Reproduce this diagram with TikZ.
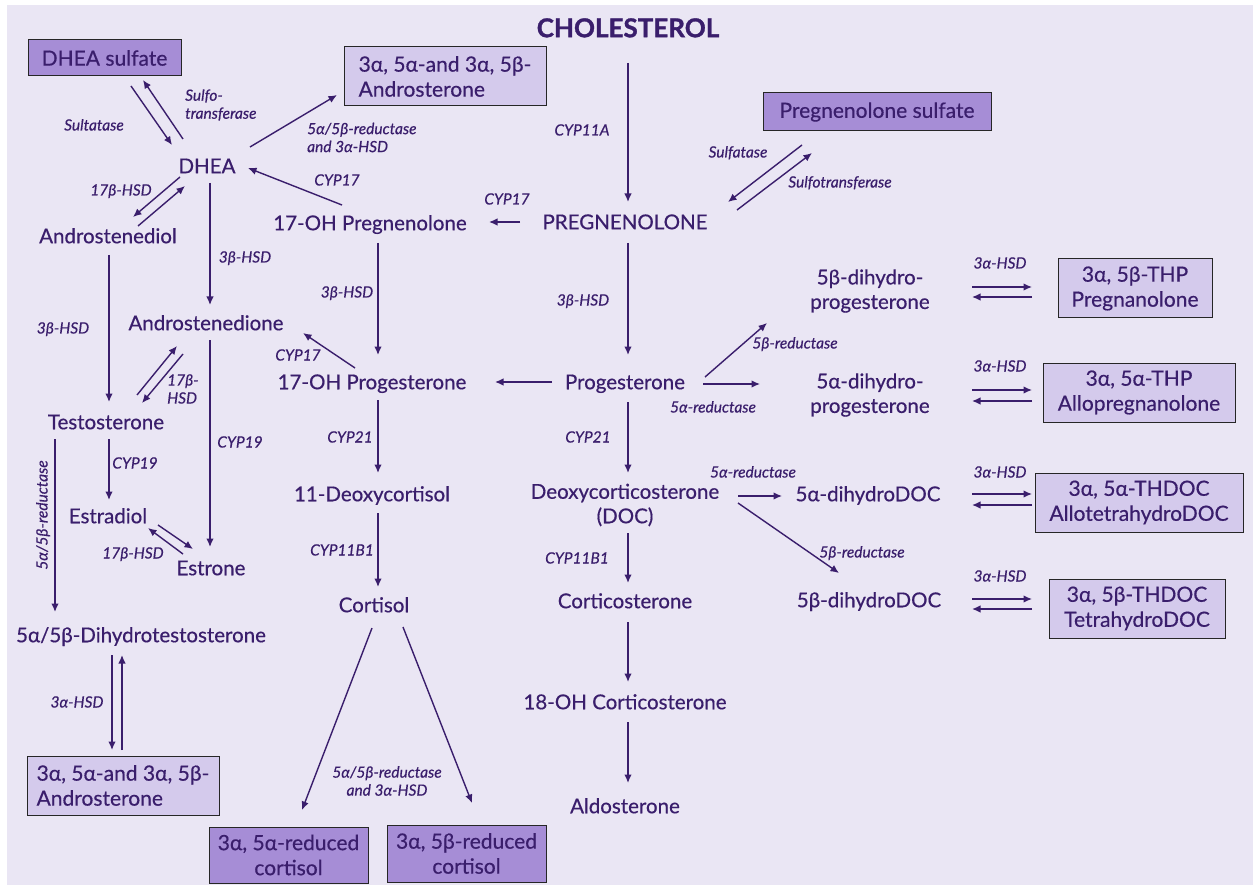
\documentclass[tikz,border=0pt]{standalone}
\usepackage{fontspec}
\setmainfont{Lato}
\newfontfamily\medfont{Lato}[FakeBold=0.5]
\newfontfamily\blackfont{Lato}[FakeBold=1.2]
\usetikzlibrary{calc,arrows.meta}
\definecolor{bgc}{RGB}{234,230,244}
\definecolor{txt}{RGB}{58,30,108}
\definecolor{lbox}{RGB}{212,202,236}
\definecolor{dbox}{RGB}{166,141,214}
\newcommand\myarrow[4]{\draw[arw] ($(#1)+(#2)$) -- ($(#3)+(#4)$);}
\begin{document}
\begin{tikzpicture}[x=1pt,y=1pt,
 every node/.style={text=txt},
 mol/.style={font=\medfont\fontsize{20.5}{24.5}\selectfont, inner sep=0pt, text height=14.5pt, text depth=0pt},
 mol2/.style={font=\medfont\fontsize{20.5}{24.5}\selectfont, inner sep=0pt, align=center},
 enz/.style={font=\medfont\fontsize{15.5}{18}\selectfont\itshape, inner sep=0pt, text height=11pt, text depth=0pt},
 enz2/.style={font=\medfont\fontsize{15.5}{18}\selectfont\itshape, inner sep=0pt},
 lbx/.style={draw=black!85, line width=1pt, fill=lbox, font=\medfont\fontsize{21}{25}\selectfont, inner sep=0pt, align=center},
 dbx/.style={draw=black!85, line width=1pt, fill=dbox, font=\medfont\fontsize{21}{25}\selectfont, inner sep=0pt, align=center},
 arw/.style={draw=txt, line width=1.4pt, -{Latex[length=8.5pt,width=7.5pt]}}]
\useasboundingbox (0,0) rectangle (1253,-885);
\fill[white] (0,0) rectangle (1253,-885);
\fill[bgc] (7,-5) rectangle (1253,-885);

% main nodes
\node[font=\blackfont\fontsize{26}{30}\selectfont\bfseries, inner sep=0pt, text height=18.5pt, text depth=0pt] (chol) at (628,-28) {CHOLESTEROL};
\node[mol] (dhea) at (207,-166) {DHEA};
\node[mol] (ohpreg) at (370,-223) {17-OH Pregnenolone};
\node[mol] (preg) at (625,-222) {PREGNENOLONE};
\node[mol] (adiol) at (108,-236) {Androstenediol};
\node[mol] (adione) at (206,-323) {Androstenedione};
\node[mol] (ohprog) at (372,-382) {17-OH Progesterone};
\node[mol] (prog) at (625,-382) {Progesterone};
\node[mol2] (bdhp) at (870,-291) {5β-dihydro-\\progesterone};
\node[mol2] (adhp) at (870,-395) {5α-dihydro-\\progesterone};
\node[mol] (testo) at (106,-422) {Testosterone};
\node[mol] (estradiol) at (108,-516) {Estradiol};
\node[mol] (estrone) at (211,-568) {Estrone};
\node[mol] (deoxy) at (372,-494) {11-Deoxycortisol};
\node[mol2] (doc) at (625,-505) {Deoxycorticosterone\\(DOC)};
\node[mol] (adoc) at (868,-494) {5α-dihydroDOC};
\node[mol] (bdoc) at (869,-600) {5β-dihydroDOC};
\node[mol] (cortisol) at (374,-605) {Cortisol};
\node[mol] (cortico) at (625,-601) {Corticosterone};
\node[mol] (dht) at (141,-635) {5α/5β-Dihydrotestosterone};
\node[mol] (ohcortico) at (625,-702) {18-OH Corticosterone};
\node[mol] (aldo) at (625,-806) {Aldosterone};

% boxes
\node[dbx, minimum width=153, minimum height=36] (dheas) at (104.5,-58) {DHEA sulfate};
\node[lbx, minimum width=202, minimum height=59, align=left] (andtop) at (445,-76.5) {3α, 5α-and 3α, 5β-\\Androsterone};
\node[dbx, minimum width=228, minimum height=38] (pregs) at (877,-112) {Pregnenolone sulfate};
\node[lbx, minimum width=154, minimum height=59] (thpb) at (1135,-288.5) {3α, 5β-THP\\Pregnanolone};
\node[lbx, minimum width=192, minimum height=59] (thpa) at (1139,-392.5) {3α, 5α-THP\\Allopregnanolone};
\node[lbx, minimum width=208, minimum height=59] (thdoca) at (1139,-502.5) {3α, 5α-THDOC\\AllotetrahydroDOC};
\node[lbx, minimum width=176, minimum height=59] (thdocb) at (1137,-608.5) {3α, 5β-THDOC\\TetrahydroDOC};
\node[lbx, minimum width=192, minimum height=59, align=left] (andbot) at (123,-785.5) {3α, 5α-and 3α, 5β-\\Androsterone};
\node[dbx, minimum width=159, minimum height=56] (reda) at (288.5,-855) {3α, 5α-reduced\\cortisol};
\node[dbx, minimum width=159, minimum height=57] (redb) at (466.5,-853.5) {3α, 5β-reduced\\cortisol};

% enzyme labels
\node[enz] (l1) at (94,-125) {Sultatase};
\node[enz2, anchor=west, align=left] (l2) at (185,-105) {Sulfo-\\transferase};
\node[enz2, anchor=west, align=left] (l3) at (307,-137.5) {5α/5β-reductase\\and 3α-HSD};
\node[enz] (l4) at (337,-180) {CYP17};
\node[enz] (l5) at (582,-130) {CYP11A};
\node[enz] (l6) at (507,-199) {CYP17};
\node[enz] (l7) at (738,-152) {Sulfatase};
\node[enz] (l8) at (840,-182) {Sulfotransferase};
\node[enz] (l9) at (121,-190) {17β-HSD};
\node[enz] (l10) at (245,-257) {3β-HSD};
\node[enz] (l11) at (347,-292) {3β-HSD};
\node[enz] (l12) at (583,-300) {3β-HSD};
\node[enz] (l13) at (63,-328) {3β-HSD};
\node[enz] (l14) at (298,-355) {CYP17};
\node[enz2, anchor=west, align=left] (l15) at (167,-389) {17β-\\HSD};
\node[enz] (l16) at (795,-343) {5β-reductase};
\node[enz] (l17) at (713,-407) {5α-reductase};
\node[enz] (l18) at (1000,-263) {3α-HSD};
\node[enz] (l19) at (1000,-366) {3α-HSD};
\node[enz] (l20) at (1000,-472) {3α-HSD};
\node[enz] (l21) at (1000,-576) {3α-HSD};
\node[enz] (l22) at (240,-442) {CYP19};
\node[enz] (l23) at (135,-463) {CYP19};
\node[enz] (l24) at (350,-437) {CYP21};
\node[enz] (l25) at (588,-437) {CYP21};
\node[enz] (l26) at (753,-472) {5α-reductase};
\node[enz] (l27) at (342,-550) {CYP11B1};
\node[enz] (l28) at (577,-558) {CYP11B1};
\node[enz] (l29) at (862,-552) {5β-reductase};
\node[enz] (l30) at (133,-553) {17β-HSD};
\node[enz, rotate=90] (l31) at (42,-515) {5α/5β-reductase};
\node[enz] (l32) at (77,-702) {3α-HSD};
\node[enz2, align=center] (l33) at (387,-781) {5α/5β-reductase\\and 3α-HSD};

% arrows
\myarrow{chol}{0,-35}{preg}{3,20}
\myarrow{preg}{3,-21}{prog}{3,27}
\myarrow{preg}{-105,0}{ohpreg}{119,1}
\myarrow{ohpreg}{-28,18}{dhea}{41,-2}
\myarrow{dhea}{43,19}{andtop}{-108,-18.5}
\myarrow{dheas}{26.5,-28}{dhea}{-35,21}
\myarrow{dhea}{-24,27}{dheas}{38.5,-22}
\myarrow{pregs}{-75,-33}{preg}{103,20}
\myarrow{preg}{112,12}{pregs}{-65,-41}
\myarrow{dhea}{-27,-11}{adiol}{25,19}
\myarrow{adiol}{30,10}{dhea}{-22,-20}
\myarrow{dhea}{3,-17}{adione}{4,18}
\myarrow{adiol}{1,-19}{testo}{3,20}
\myarrow{ohpreg}{8,-20}{ohprog}{6,27}
\myarrow{ohprog}{-17,14}{adione}{97,-10}
\myarrow{testo}{31,27}{adione}{-29,-23}
\myarrow{adione}{-23,-31}{testo}{36,19}
\myarrow{adione}{4,-17}{estrone}{-1,21}
\myarrow{testo}{3,-17}{estradiol}{1,16}
\myarrow{estradiol}{50,-9}{estrone}{-18,19}
\myarrow{estrone}{-28,14}{estradiol}{40,-12}
\myarrow{testo}{-51,-17}{dht}{-86,23}
\myarrow{dht}{-29,-20}{andbot}{-11,35.5}
\myarrow{andbot}{-1,35.5}{dht}{-19,-20}
\myarrow{prog}{-73,0}{ohprog}{123,0}
\myarrow{ohprog}{6,-18}{deoxy}{6,21}
\myarrow{deoxy}{6,-19}{cortisol}{4,18}
\myarrow{cortisol}{-2,-23}{reda}{13.5,45}
\myarrow{cortisol}{29,-22}{redb}{5.5,50.5}
\myarrow{prog}{3,-20}{doc}{3,32}
\myarrow{doc}{3,-28}{cortico}{3,18}
\myarrow{cortico}{3,-21}{ohcortico}{3,20}
\myarrow{ohcortico}{3,-20}{aldo}{3,23}
\myarrow{prog}{80,5}{bdhp}{-103,-32}
\myarrow{prog}{78,-2}{adhp}{-110,11}
\myarrow{doc}{113,9}{adoc}{-86,-2}
\myarrow{doc}{113,2}{bdoc}{-30,27}
\myarrow{bdhp}{102,4}{thpb}{-103,1.5}
\myarrow{thpb}{-103,-8.5}{bdhp}{102,-6}
\myarrow{adhp}{102,5}{thpa}{-107,2.5}
\myarrow{thpa}{-107,-8.5}{adhp}{102,-6}
\myarrow{adoc}{104,0}{thdoca}{-107,8.5}
\myarrow{thdoca}{-107,-2.5}{adoc}{104,-11}
\myarrow{bdoc}{103,1}{thdocb}{-105,9.5}
\myarrow{thdocb}{-105,-0.5}{bdoc}{103,-9}
\end{tikzpicture}
\end{document}
